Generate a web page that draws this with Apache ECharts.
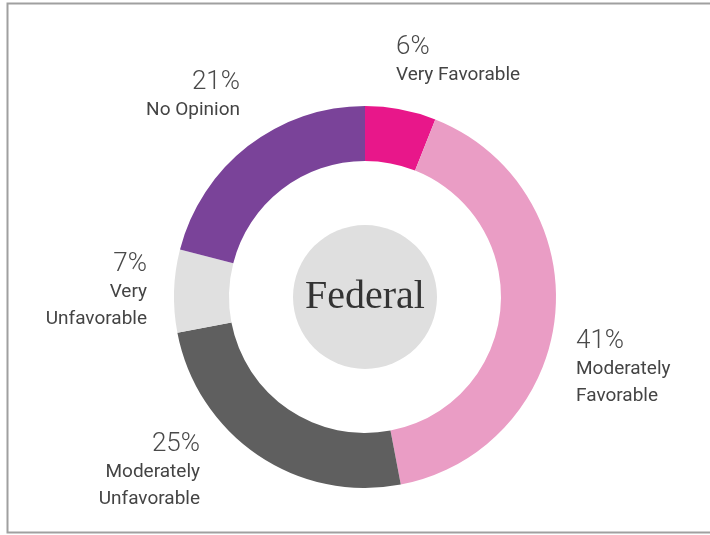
<!DOCTYPE html>
<html>
<head>
<meta charset="utf-8">
<script src="https://cdn.jsdelivr.net/npm/echarts@6/dist/echarts.min.js"></script>
<style>
html,body{margin:0;padding:0;background:#fff;}
#chart{width:710px;height:535px;}
</style>
</head>
<body>
<div id="chart"></div>
<script>
// Data
var categories = ['Very Favorable', 'Moderately Favorable', 'Moderately Unfavorable', 'Very Unfavorable', 'No Opinion'];
var labelLines = [['Very Favorable'], ['Moderately', 'Favorable'], ['Moderately', 'Unfavorable'], ['Very', 'Unfavorable'], ['No Opinion']];
var values = [6, 41, 25, 7, 21];
var centerTitle = 'Federal';

// Styles / layout
var colors = ['#E8178A', '#EA9DC5', '#5F5F5F', '#E0E0E0', '#7A4399'];
var labelPlacement = [
  {x: 396, y: 32, align: 'left'},
  {x: 576, y: 326, align: 'left'},
  {x: 200, y: 429, align: 'right'},
  {x: 147, y: 249, align: 'right'},
  {x: 240, y: 67, align: 'right'}
];

var chart = echarts.init(document.getElementById('chart'));
var option = {
  animation: false,
  graphic: [{
    type: 'rect', silent: true, z: -1,
    shape: {x: 7.5, y: 3.5, width: 720, height: 529},
    style: {fill: 'none', stroke: '#A0A0A0', lineWidth: 2}
  }],
  series: [{
    type: 'pie',
    center: [365, 297],
    radius: [136, 191],
    startAngle: 90,
    clockwise: true,
    silent: true,
    emphasis: {disabled: true},
    itemStyle: {borderWidth: 0},
    data: categories.map(function (c, i) {
      return {name: c, value: values[i], itemStyle: {color: colors[i]}};
    }),
    label: {
      show: true,
      position: 'outside',
      formatter: function (p) {
        var s = '{p|' + values[p.dataIndex] + '%}';
        labelLines[p.dataIndex].forEach(function (l) { s += '\n{n|' + l + '}'; });
        return s;
      },
      rich: {
        p: {fontFamily: 'Roboto', fontWeight: 300, fontSize: 26, lineHeight: 30, color: '#4a4a4a'},
        n: {fontFamily: 'Roboto', fontWeight: 400, fontSize: 19, lineHeight: 27, color: '#444'}
      }
    },
    labelLine: {show: false},
    labelLayout: function (params) {
      var lp = labelPlacement[params.dataIndex];
      return {x: lp.x, y: lp.y, align: lp.align, verticalAlign: 'top'};
    }
  }, {
    type: 'pie',
    center: [365, 297],
    radius: [0, 72],
    silent: true,
    emphasis: {disabled: true},
    data: [{name: centerTitle, value: 1, itemStyle: {color: '#DFDFDF'}}],
    label: {
      show: true,
      position: 'center',
      formatter: '{b}',
      fontFamily: 'Liberation Serif',
      fontSize: 40,
      color: '#333'
    },
    labelLine: {show: false}
  }]
};
chart.setOption(option);
</script>
</body>
</html>
